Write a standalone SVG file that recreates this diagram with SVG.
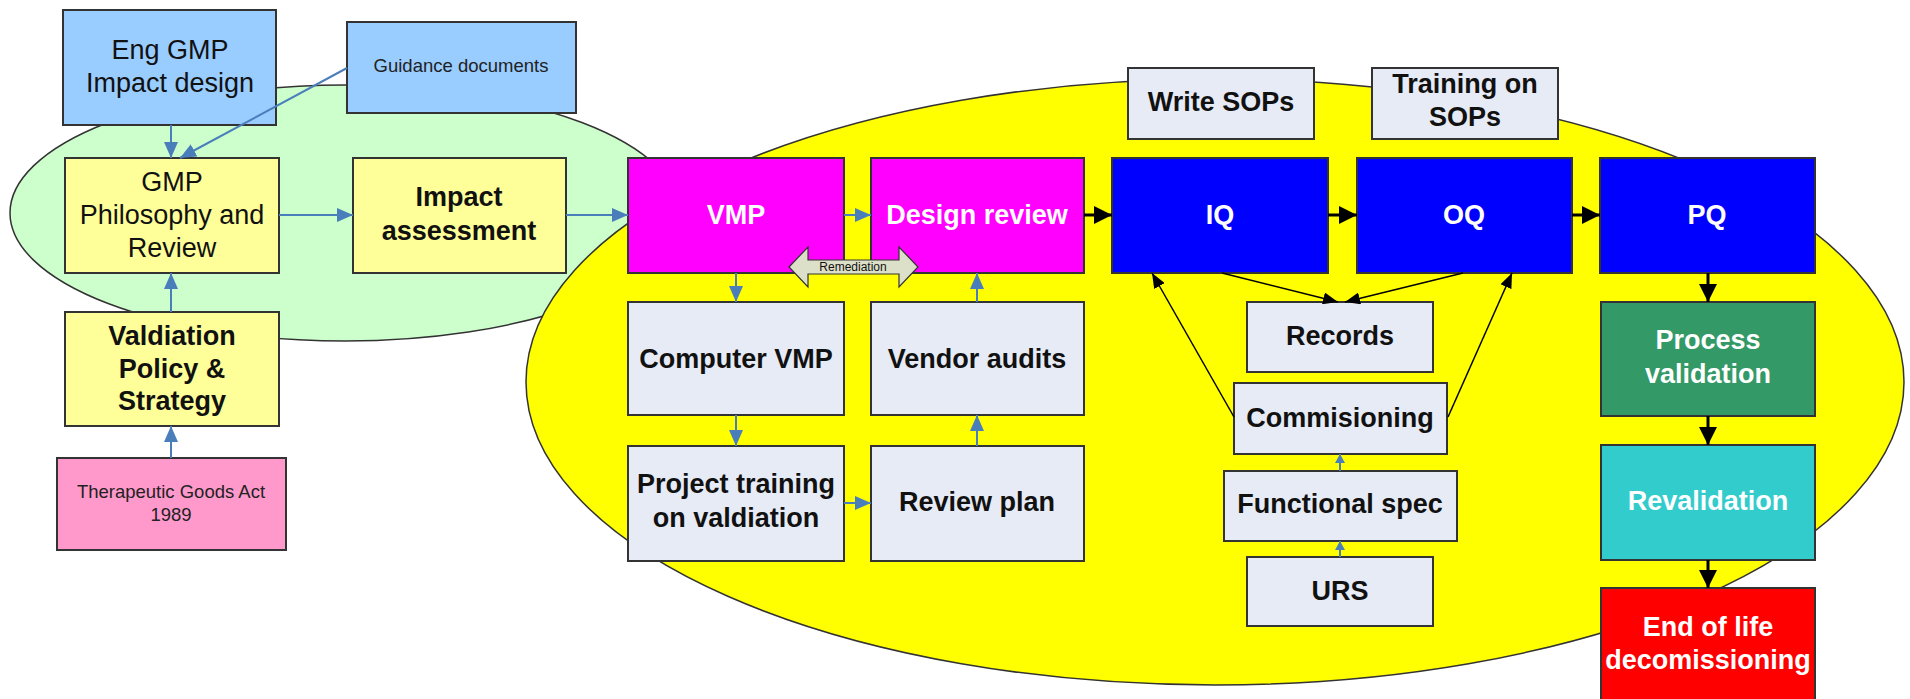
<svg xmlns="http://www.w3.org/2000/svg" width="1910" height="699" viewBox="0 0 1910 699">
<style>
.box{stroke:#333;stroke-width:2}
.t{font-family:"Liberation Sans",Arial,Helvetica,sans-serif;text-anchor:middle;fill:#111}
.b{font-weight:bold;font-size:27px}
.n{font-size:27px}
.s{font-size:18.5px;fill:#222}
.w{fill:#fff}
.gray{fill:#e6ebf5}
.yel{fill:#ffff99}
.blu{fill:#99ccff}
.mag{fill:#ff00ff}
.dblue{fill:#0000ff}
.bl{stroke:#4a7ebb;stroke-width:2;fill:none}
.bk{stroke:#000;stroke-width:3;fill:none}
.bkt{stroke:#000;stroke-width:1.5;fill:none}
</style>
<defs>
<marker id="ab" markerUnits="userSpaceOnUse" markerWidth="16" markerHeight="14" refX="16" refY="7" orient="auto"><path d="M0,0 L16,7 L0,14 z" fill="#4a7ebb"/></marker>
<marker id="abs" markerUnits="userSpaceOnUse" markerWidth="9" markerHeight="10" refX="9" refY="5" orient="auto"><path d="M0,0 L9,5 L0,10 z" fill="#4a7ebb"/></marker>
<marker id="ak" markerUnits="userSpaceOnUse" markerWidth="18" markerHeight="18" refX="18" refY="9" orient="auto"><path d="M0,0 L18,9 L0,18 z" fill="#000"/></marker>
<marker id="aks" markerUnits="userSpaceOnUse" markerWidth="15" markerHeight="12" refX="15" refY="6" orient="auto"><path d="M0,0 L15,6 L0,12 z" fill="#000"/></marker>
</defs>
<rect x="0" y="0" width="1910" height="699" fill="#fff"/>
<g id="background">
<ellipse cx="345" cy="213" rx="335" ry="128" fill="#ccffcc" stroke="#333" stroke-width="1.5"/>
<ellipse cx="1215" cy="382" rx="689" ry="303" fill="#ffff00" stroke="#333" stroke-width="1.5"/>
</g>
<g id="eng"><rect class="box blu" x="63" y="10" width="213" height="115"/><text class="t n" x="170" y="59">Eng GMP</text><text class="t n" x="170" y="92">Impact design</text></g>
<g id="guidance"><rect class="box blu" x="347" y="22" width="229" height="91"/><text class="t s" x="461" y="72">Guidance documents</text></g>
<g id="gmp"><rect class="box yel" x="65" y="158" width="214" height="115"/><text class="t n" x="172" y="191">GMP</text><text class="t n" x="172" y="224">Philosophy and</text><text class="t n" x="172" y="257">Review</text></g>
<g id="impact"><rect class="box yel" x="353" y="158" width="213" height="115"/><text class="t b" x="459" y="206">Impact</text><text class="t b" x="459" y="240">assessment</text></g>
<g id="valpol"><rect class="box yel" x="65" y="312" width="214" height="114"/><text class="t b" x="172" y="345">Valdiation</text><text class="t b" x="172" y="378">Policy &amp;</text><text class="t b" x="172" y="410">Strategy</text></g>
<g id="tga"><rect class="box" fill="#ff99cc" x="57" y="458" width="229" height="92"/><text class="t s" x="171" y="498">Therapeutic Goods Act</text><text class="t s" x="171" y="521">1989</text></g>
<g id="vmp"><rect class="box mag" x="628" y="158" width="216" height="115"/><text class="t b w" x="736" y="224">VMP</text></g>
<g id="design"><rect class="box mag" x="871" y="158" width="213" height="115"/><text class="t b w" x="977" y="224">Design review</text></g>
<g id="iq"><rect class="box dblue" x="1112" y="158" width="216" height="115"/><text class="t b w" x="1220" y="224">IQ</text></g>
<g id="oq"><rect class="box dblue" x="1357" y="158" width="215" height="115"/><text class="t b w" x="1464" y="224">OQ</text></g>
<g id="pq"><rect class="box dblue" x="1600" y="158" width="215" height="115"/><text class="t b w" x="1707" y="224">PQ</text></g>
<g id="compvmp"><rect class="box gray" x="628" y="302" width="216" height="113"/><text class="t b" x="736" y="368">Computer VMP</text></g>
<g id="vendor"><rect class="box gray" x="871" y="302" width="213" height="113"/><text class="t b" x="977" y="368">Vendor audits</text></g>
<g id="projtrain"><rect class="box gray" x="628" y="446" width="216" height="115"/><text class="t b" x="736" y="493">Project training</text><text class="t b" x="736" y="527">on valdiation</text></g>
<g id="reviewplan"><rect class="box gray" x="871" y="446" width="213" height="115"/><text class="t b" x="977" y="511">Review plan</text></g>
<g id="writesops"><rect class="box gray" x="1128" y="68" width="186" height="71"/><text class="t b" x="1221" y="111">Write SOPs</text></g>
<g id="trainsops"><rect class="box gray" x="1372" y="68" width="186" height="71"/><text class="t b" x="1465" y="93">Training on</text><text class="t b" x="1465" y="126">SOPs</text></g>
<g id="records"><rect class="box gray" x="1247" y="302" width="186" height="70"/><text class="t b" x="1340" y="345">Records</text></g>
<g id="commis"><rect class="box gray" x="1234" y="383" width="213" height="71"/><text class="t b" x="1340" y="427">Commisioning</text></g>
<g id="funcspec"><rect class="box gray" x="1224" y="471" width="233" height="70"/><text class="t b" x="1340" y="513">Functional spec</text></g>
<g id="urs"><rect class="box gray" x="1247" y="557" width="186" height="69"/><text class="t b" x="1340" y="600">URS</text></g>
<g id="procval"><rect class="box" fill="#339966" x="1601" y="302" width="214" height="114"/><text class="t b w" x="1708" y="349">Process</text><text class="t b w" x="1708" y="383">validation</text></g>
<g id="reval"><rect class="box" fill="#33cccc" x="1601" y="445" width="214" height="115"/><text class="t b w" x="1708" y="510">Revalidation</text></g>
<g id="eol"><rect class="box" fill="#ff0000" x="1601" y="588" width="214" height="120"/><text class="t b w" x="1708" y="636">End of life</text><text class="t b w" x="1708" y="669">decomissioning</text></g>
<g id="connectors">
<line class="bl" x1="171" y1="125" x2="171" y2="158" marker-end="url(#ab)"/>
<line class="bl" stroke-width="1.5" x1="347" y1="68" x2="180" y2="158" marker-end="url(#ab)"/>
<line class="bl" x1="279" y1="215" x2="353" y2="215" marker-end="url(#ab)"/>
<line class="bl" x1="566" y1="215" x2="628" y2="215" marker-end="url(#ab)"/>
<line class="bl" x1="171" y1="312" x2="171" y2="273" marker-end="url(#ab)"/>
<line class="bl" x1="171" y1="458" x2="171" y2="426" marker-end="url(#ab)"/>
<line class="bl" x1="844" y1="215" x2="871" y2="215" marker-end="url(#ab)"/>
<line class="bl" x1="736" y1="273" x2="736" y2="302" marker-end="url(#ab)"/>
<line class="bl" x1="736" y1="415" x2="736" y2="446" marker-end="url(#ab)"/>
<line class="bl" x1="844" y1="503" x2="871" y2="503" marker-end="url(#ab)"/>
<line class="bl" x1="977" y1="446" x2="977" y2="415" marker-end="url(#ab)"/>
<line class="bl" x1="977" y1="302" x2="977" y2="273" marker-end="url(#ab)"/>
<line class="bl" stroke-width="1.5" x1="1340" y1="471" x2="1340" y2="454" marker-end="url(#abs)"/>
<line class="bl" stroke-width="1.5" x1="1340" y1="557" x2="1340" y2="541" marker-end="url(#abs)"/>
<line class="bk" x1="1084" y1="215" x2="1112" y2="215" marker-end="url(#ak)"/>
<line class="bk" x1="1328" y1="215" x2="1357" y2="215" marker-end="url(#ak)"/>
<line class="bk" x1="1572" y1="215" x2="1600" y2="215" marker-end="url(#ak)"/>
<line class="bk" x1="1708" y1="273" x2="1708" y2="302" marker-end="url(#ak)"/>
<line class="bk" x1="1708" y1="416" x2="1708" y2="445" marker-end="url(#ak)"/>
<line class="bk" x1="1708" y1="560" x2="1708" y2="588" marker-end="url(#ak)"/>
<line class="bkt" x1="1222" y1="273" x2="1338" y2="302" marker-end="url(#aks)"/>
<line class="bkt" x1="1463" y1="273" x2="1345" y2="302" marker-end="url(#aks)"/>
<line class="bkt" x1="1234" y1="417" x2="1152" y2="273" marker-end="url(#aks)"/>
<line class="bkt" x1="1448" y1="417" x2="1512" y2="273" marker-end="url(#aks)"/>
</g>
<g id="remediation">
<polygon points="789,267 808,247 808,260 899,260 899,247 918,267 899,287 899,274 808,274 808,287" fill="#dde0c8" stroke="#333" stroke-width="1.2"/>
<text class="t" x="853" y="271" font-size="12" fill="#333">Remediation</text>
</g>
</svg>
